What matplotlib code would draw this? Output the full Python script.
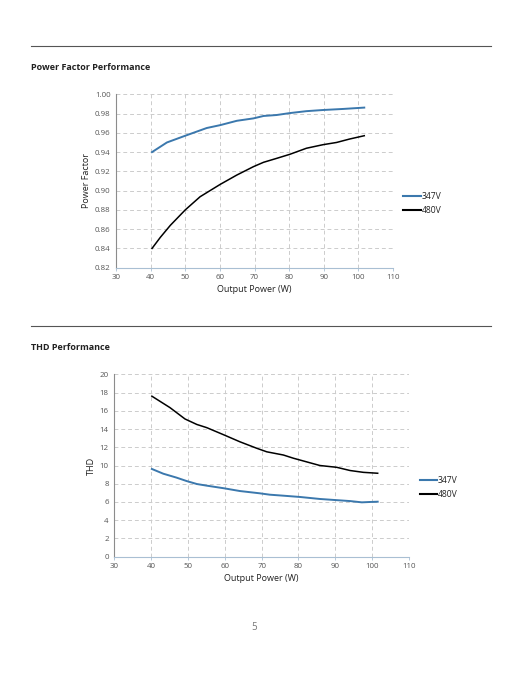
import matplotlib
matplotlib.use("Agg")
import matplotlib.pyplot as plt
from matplotlib.lines import Line2D

plt.rcParams['font.family'] = ['Open Sans', 'DejaVu Sans']

# Power factor data
pf_x_347 = [40.4, 44.7, 50.0, 56.2, 60.1, 64.9, 69.7, 72.6, 76.4, 80.2, 85.0, 89.8, 95.6, 101.7]
pf_y_347 = [0.940, 0.950, 0.957, 0.965, 0.968, 0.9725, 0.975, 0.9775, 0.9785, 0.9805, 0.9825, 0.9837, 0.9848, 0.9862]
pf_x_480 = [40.4, 42.8, 45.7, 50.0, 54.3, 60.1, 64.9, 69.7, 72.6, 76.4, 80.2, 85.0, 89.8, 93.7, 97.5, 101.7]
pf_y_480 = [0.840, 0.8515, 0.864, 0.880, 0.8937, 0.9065, 0.9162, 0.9249, 0.9294, 0.9335, 0.9377, 0.944, 0.9477, 0.950, 0.9536, 0.957]

# THD data
thd_x_480 = [40.2, 45.1, 49.2, 52.4, 55.1, 59.8, 64.1, 68.6, 71.4, 75.9, 78.6, 83.1, 85.8, 90.4, 94.0, 97.6, 101.5]
thd_y_480 = [17.6, 16.35, 15.1, 14.5, 14.15, 13.35, 12.6, 11.9, 11.5, 11.15, 10.8, 10.3, 10.0, 9.8, 9.45, 9.25, 9.15]
thd_x_347 = [40.2, 43.3, 46.9, 49.6, 52.4, 55.1, 59.8, 64.1, 69.5, 72.2, 75.9, 80.4, 85.8, 90.4, 94.0, 97.2, 99.4, 101.5]
thd_y_347 = [9.62, 9.1, 8.67, 8.3, 7.97, 7.79, 7.5, 7.2, 6.95, 6.8, 6.69, 6.55, 6.33, 6.2, 6.1, 5.96, 6.0, 6.03]

series_labels = ['347V', '480V']
series_colors = ['#3b78ad', '#000000']

x_ticks = list(range(30, 111, 10))
pf_ticks = [0.82, 0.84, 0.86, 0.88, 0.90, 0.92, 0.94, 0.96, 0.98, 1.00]
thd_ticks = list(range(0, 21, 2))

W, H = 522, 676
fig = plt.figure(figsize=(W / 100, H / 100), dpi=100)
fig.patch.set_facecolor('white')


def px_rect(left, top, right, bottom):
    return [left / W, 1 - bottom / H, (right - left) / W, (bottom - top) / H]


def style_axes(ax, yticks, yfmt):
    ax.set_xlim(30, 110)
    ax.set_ylim(yticks[0], yticks[-1])
    ax.set_xticks(x_ticks)
    ax.set_yticks(yticks)
    ax.set_yticklabels([yfmt.format(v) for v in yticks])
    ax.grid(True, color='#cccccc', linestyle=(0, (4, 3)), linewidth=0.7)
    ax.set_axisbelow(True)
    for s in ['top', 'right']:
        ax.spines[s].set_visible(False)
    ax.spines['left'].set_color('#8c8c8c')
    ax.spines['bottom'].set_color('#a9bfd3')
    ax.spines['left'].set_linewidth(0.8)
    ax.spines['bottom'].set_linewidth(0.8)
    ax.tick_params(axis='x', length=2.5, width=0.6, color='#a9bfd3', labelsize=5.7,
                   labelcolor='#555555', pad=2)
    ax.tick_params(axis='y', length=0, labelsize=5.7, labelcolor='#555555', pad=4)
    ax.set_xlabel('Output Power (W)', fontsize=6.5, color='#222222', labelpad=3)


def add_legend(ax, y_frac):
    handles = [Line2D([0], [0], color=c, lw=1.5) for c in series_colors]
    ax.legend(handles, series_labels, loc='center left', bbox_to_anchor=(1.025, y_frac),
              frameon=False, fontsize=6.2, handlelength=2.0, handletextpad=0.1,
              labelspacing=0.55, borderaxespad=0, labelcolor='#222222')


# Section rules and titles
for y in [45.7, 326]:
    fig.add_artist(Line2D([31 / W, 491 / W], [1 - y / H, 1 - y / H], color='#555555', lw=0.8))
fig.text(31 / W, 1 - 67.7 / H, 'Power Factor Performance', fontsize=6.5, fontweight='bold',
         va='center', ha='left', color='#222222')
fig.text(31 / W, 1 - 347.3 / H, 'THD Performance', fontsize=6.5, fontweight='bold',
         va='center', ha='left', color='#222222')

# Power factor chart
ax1 = fig.add_axes(px_rect(116, 94.3, 393, 267.7))
ax1.plot(pf_x_347, pf_y_347, color=series_colors[0], lw=1.4)
ax1.plot(pf_x_480, pf_y_480, color=series_colors[1], lw=1.1)
style_axes(ax1, pf_ticks, '{:.2f}')
ax1.set_ylabel('Power Factor', fontsize=6.5, color='#222222', labelpad=3)
add_legend(ax1, (267.7 - 203.5) / (267.7 - 94.3))

# THD chart
ax2 = fig.add_axes(px_rect(114.3, 374.3, 409, 556.7))
ax2.plot(thd_x_480, thd_y_480, color=series_colors[1], lw=1.1)
ax2.plot(thd_x_347, thd_y_347, color=series_colors[0], lw=1.4)
style_axes(ax2, thd_ticks, '{:d}')
ax2.set_ylabel('THD', fontsize=6.5, color='#222222', labelpad=3)
add_legend(ax2, (556.7 - 487.7) / (556.7 - 374.3))

fig.text(254 / W, 1 - 627 / H, '5', fontsize=7, color='#777777', ha='center', va='center')

fig.savefig('out.png', dpi=100, facecolor='white')
